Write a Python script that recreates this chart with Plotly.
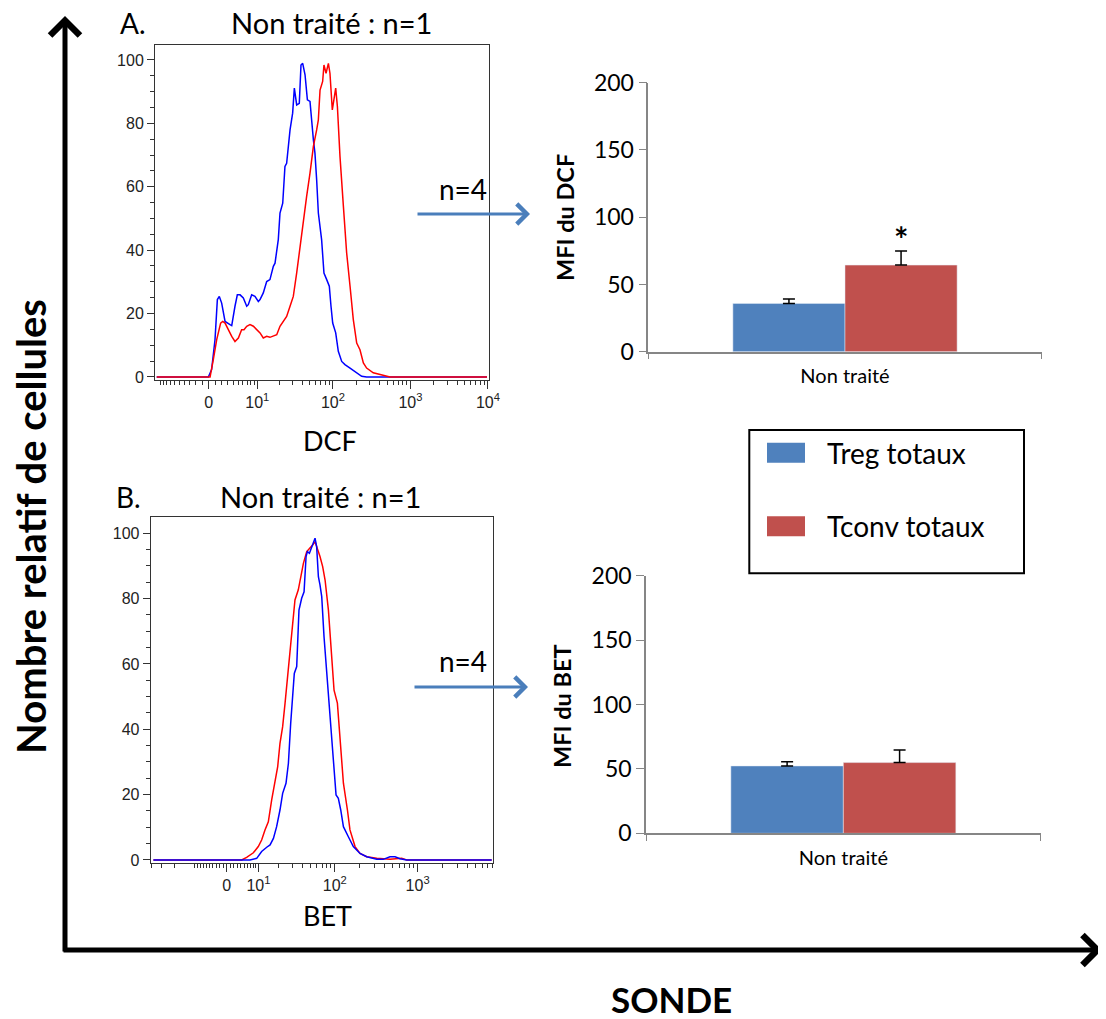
import numpy as np
import plotly.graph_objects as go

W, H = 1098, 1011   # figure size; the page adds an 8 px body margin
OFF = 8

# ---------------- data ----------------
# Flow cytometry histograms: relative cell count per display channel (0-256)
dcf_treg_ch = [1.3, 40.9, 43.4, 46.0, 47.8, 49.3, 51.1, 53.7, 57.5, 58.8, 61.3, 63.1, 65.2, 67.7, 70.3, 71.5,
               74.1, 76.6, 79.2, 80.5, 83.0, 85.6, 88.1, 90.7, 92.0, 94.5, 95.8, 97.9, 99.6, 100.9, 103.5, 105.5,
               106.8, 108.6, 110.6, 111.9, 113.2, 115.0, 116.8, 118.8, 121.4, 122.6, 123.9, 125.2, 127.7, 129.5,
               131.6, 133.6, 134.9, 136.2, 138.5, 140.5, 143.1, 145.6, 149.5, 154.6, 158.4, 162.2, 254.5]
dcf_treg_y = [0, 0, 2.3, 11.8, 24.4, 25.4, 23.3, 17.5, 16.5, 16.2, 22.3, 25.9, 25.9, 24.9, 22.3, 22.8,
              25.9, 25.4, 23.8, 24.4, 26.5, 30.1, 30.7, 34.9, 35.9, 43.3, 51.7, 54.8, 66.4, 67.4, 77.9, 83.2,
              91.1, 85.8, 86.3, 98.4, 98.9, 95.3, 87.4, 86.9, 74.8, 70.6, 62.2, 51.7, 43.3, 32.8,
              30.7, 28.6, 22.3, 17.0, 13.9, 8.1, 4.9, 3.9, 2.8, 1.3, 0.2, 0, 0]
dcf_tconv_ch = [1.3, 42.2, 44.7, 47.3, 50.3, 51.9, 53.7, 56.2, 58.8, 61.3, 63.9, 66.4, 68.2, 70.3, 72.8, 75.4,
                77.9, 80.5, 83.0, 85.6, 88.1, 90.7, 93.3, 95.8, 98.4, 100.9, 103.5, 106.0, 108.6, 111.1, 113.7,
                116.2, 118.8, 121.4, 123.9, 125.2, 126.5, 128.5, 129.5, 131.1, 132.9, 134.1, 135.9, 137.2, 138.5,
                139.8, 141.8, 144.4, 146.9, 149.5, 152.0, 154.6, 157.1, 159.7, 162.2, 167.3, 175.0, 180.1, 254.5]
dcf_tconv_y = [0, 0, 5.5, 11.8, 17.0, 17.5, 17.0, 14.9, 12.8, 11.2, 12.3, 14.9, 14.9, 16.0, 16.5, 16.0,
               14.9, 13.9, 12.3, 12.8, 12.5, 12.8, 13.3, 16.0, 17.5, 19.1, 22.3, 25.4, 32.8, 41.2, 49.6,
               56.9, 64.3, 72.7, 77.9, 81.1, 90.5, 93.2, 98.4, 95.8, 98.9, 95.8, 84.2, 87.9, 91.1,
               85.3, 69.5, 53.8, 39.1, 28.6, 18.1, 10.7, 8.6, 4.4, 2.8, 1.3, 0.4, 0, 0]

bet_treg_ch = [2.0, 74.2, 79.2, 82.9, 86.7, 89.2, 91.7, 94.1, 96.6, 98.6, 101.1, 102.9, 104.6, 106.1, 107.3,
               109.1, 110.8, 112.8, 114.6, 116.1, 117.1, 118.6, 120.3, 121.5, 122.8, 124.0, 125.3, 126.5, 127.8,
               129.5, 131.5, 134.0, 136.5, 138.5, 140.2, 142.0, 144.0, 147.7, 151.4, 156.4, 161.4, 168.9, 173.8,
               178.8, 182.6, 186.3, 191.3, 254.8]
bet_treg_y = [0, 0, 0.5, 2.6, 3.9, 4.6, 6.6, 10.2, 15.3, 20.4, 23.5, 29.6, 41.8, 50.0, 57.1,
              59.2, 76.5, 80.1, 82.1, 92.9, 94.4, 93.9, 95.9, 96.9, 98.5, 95.9, 86.7, 84.2, 80.6,
              68.4, 58.2, 45.9, 30.6, 19.9, 18.9, 15.3, 10.2, 7.1, 4.1, 2.0, 1.0, 0.2, 0.2,
              1.0, 1.0, 0.4, 0, 0]
bet_tconv_ch = [2.0, 68.0, 71.7, 76.7, 80.4, 82.9, 85.4, 87.9, 90.4, 92.9, 94.9, 96.6, 98.6, 100.4, 102.4,
                104.1, 106.1, 107.8, 110.3, 111.6, 114.1, 116.6, 119.1, 121.0, 122.8, 124.5, 126.5, 128.5, 130.3,
                132.8, 135.2, 137.0, 139.5, 141.5, 144.0, 147.0, 148.9, 152.7, 156.4, 161.4, 168.9, 178.8, 187.5,
                191.3, 254.8]
bet_tconv_y = [0, 0, 0.8, 2.2, 4.1, 6.1, 9.2, 11.7, 18.4, 23.5, 28.6, 35.7, 40.8, 48.0, 57.1,
               64.3, 73.5, 79.6, 82.7, 85.7, 90.8, 94.4, 95.4, 96.4, 97.4, 95.4, 92.9, 89.8, 85.7,
               76.5, 63.3, 52.0, 48.0, 35.7, 23.5, 15.3, 9.2, 4.1, 2.0, 1.0, 0.5, 0.2, 0.5,
               0, 0]

# Bar charts (MFI, mean + SEM), n=4
groups = ["Non traité"]
series_names = ["Treg totaux", "Tconv totaux"]
dcf_treg, dcf_treg_err = [35.9], [3.3]
dcf_tconv, dcf_tconv_err = [64.4], [10.4]
bet_treg, bet_treg_err = [52.3], [3.3]
bet_tconv, bet_tconv_err = [54.9], [9.8]

# axis tick values
hist_major_vals = [0, 10, 100, 1000, 10000]
hist_major_text = ["0", "10<sup>1</sup>", "10<sup>2</sup>", "10<sup>3</sup>", "10<sup>4</sup>"]

BLUE_BAR, RED_BAR = "#4f81bd", "#c0504d"
ARROW_BLUE = "#4a7ebb"
CAL = "Lato, 'Open Sans', sans-serif"
ARIAL = "'Liberation Sans', Arial, sans-serif"


def fx(p):
    return (p - OFF) / W


def fy(p):
    return 1 - (p - OFF) / H


def biex(v, c, ch0, k):
    return ch0 + k * np.arcsinh(np.asarray(v, float) / c) / np.log(10)


def minor_vals(c, ch0, k):
    vals = []
    for s in (-1, 1):
        for e in range(0, 4):
            for m in range(1, 10):
                v = s * m * 10 ** e
                if s > 0 and m == 1 and e >= 1:
                    continue
                vals.append(v)
    ch = biex(vals, c, ch0, k)
    return [float(x) for x in ch if 0 < x < 256]


fig = go.Figure()

# ---- histograms ----
fig.add_trace(go.Scatter(x=dcf_treg_ch, y=dcf_treg_y, mode="lines", line=dict(color="#0000ff", width=1.5),
                         xaxis="x", yaxis="y", showlegend=False))
fig.add_trace(go.Scatter(x=dcf_tconv_ch, y=dcf_tconv_y, mode="lines", line=dict(color="#ff0000", width=1.5),
                         xaxis="x", yaxis="y", showlegend=False))
fig.add_trace(go.Scatter(x=bet_tconv_ch, y=bet_tconv_y, mode="lines", line=dict(color="#ff0000", width=1.5),
                         xaxis="x3", yaxis="y3", showlegend=False))
fig.add_trace(go.Scatter(x=bet_treg_ch, y=bet_treg_y, mode="lines", line=dict(color="#0000ff", width=1.5),
                         xaxis="x3", yaxis="y3", showlegend=False))

# ---- bars ----
err_style = dict(type="data", symmetric=False, color="black", thickness=1.5, width=6)
fig.add_trace(go.Bar(x=groups, y=dcf_treg, name=series_names[0], marker_color=BLUE_BAR,
                     error_y=dict(array=dcf_treg_err, arrayminus=[0], **err_style),
                     xaxis="x2", yaxis="y2", showlegend=False))
fig.add_trace(go.Bar(x=groups, y=dcf_tconv, name=series_names[1], marker_color=RED_BAR,
                     error_y=dict(array=dcf_tconv_err, arrayminus=[0], **err_style),
                     xaxis="x2", yaxis="y2", showlegend=False))
fig.add_trace(go.Bar(x=groups, y=bet_treg, name=series_names[0], marker_color=BLUE_BAR,
                     error_y=dict(array=bet_treg_err, arrayminus=[0], **err_style),
                     xaxis="x4", yaxis="y4", showlegend=False))
fig.add_trace(go.Bar(x=groups, y=bet_tconv, name=series_names[1], marker_color=RED_BAR,
                     error_y=dict(array=bet_tconv_err, arrayminus=[0], **err_style),
                     xaxis="x4", yaxis="y4", showlegend=False))


def hist_x(domain_px, c, ch0, k, anchor):
    return dict(domain=[fx(domain_px[0]), fx(domain_px[1])], range=[0, 256], anchor=anchor,
                tickmode="array", tickvals=[float(v) for v in biex(hist_major_vals, c, ch0, k)],
                ticktext=hist_major_text, ticks="outside", ticklen=8, tickwidth=1, tickcolor="#333",
                minor=dict(tickmode="array", tickvals=minor_vals(c, ch0, k), ticks="outside",
                           ticklen=4, tickcolor="#333", tickwidth=1),
                showline=True, linecolor="#333", linewidth=1, mirror=True,
                showgrid=False, zeroline=False, tickfont=dict(family=ARIAL, size=16, color="#222"))


def hist_y(domain_px, top, anchor):
    return dict(domain=[fy(domain_px[1]), fy(domain_px[0])], range=[-0.8, top], anchor=anchor,
                tickmode="array", tickvals=[0, 20, 40, 60, 80, 100],
                ticks="outside", ticklen=7, tickcolor="#333",
                minor=dict(dtick=5, ticks="outside", ticklen=4, tickcolor="#333"),
                showline=True, linecolor="#333", linewidth=1, mirror=True,
                showgrid=False, zeroline=False, tickfont=dict(family=ARIAL, size=16, color="#222"))


def bar_x(domain_px, anchor):
    return dict(domain=[fx(domain_px[0]), fx(domain_px[1])], type="category", anchor=anchor,
                tickson="boundaries", ticks="outside", ticklen=6, tickcolor="#868686",
                showline=True, linecolor="#868686", linewidth=1.5, showgrid=False,
                tickfont=dict(family=CAL, size=20, color="black"), ticklabelstandoff=6)


def bar_y(domain_px, anchor):
    return dict(domain=[fy(domain_px[1]), fy(domain_px[0])], range=[0, 200], dtick=50, anchor=anchor,
                ticks="outside", ticklen=8, tickcolor="#868686", showline=True, linecolor="#868686",
                linewidth=1.5, showgrid=False, zeroline=False,
                tickfont=dict(family=CAL, size=23, color="black"))


fig.update_layout(
    width=W, height=H, margin=dict(l=0, r=0, t=0, b=0, pad=0, autoexpand=False),
    paper_bgcolor="white", plot_bgcolor="white",
    barmode="group", bargap=0.43, bargroupgap=0,
    xaxis=hist_x((155, 489), 5, 41.2, 59.4, "y"),
    yaxis=hist_y((45, 379.5), 104.7, "x"),
    xaxis3=hist_x((150.7, 493.3), 10, 56.8, 62.0, "y3"),
    yaxis3=hist_y((517.3, 862.6), 104.9, "x3"),
    xaxis2=bar_x((648.3, 1041.7), "y2"), yaxis2=bar_y((82.7, 351.7), "x2"),
    xaxis4=bar_x((646, 1040.7), "y4"), yaxis4=bar_y((575.7, 833.3), "x4"),
)

ann = []


def text(x, y, s, size, bold=False, angle=0, family=CAL, xanchor="center"):
    ann.append(dict(x=fx(x), y=fy(y), xref="paper", yref="paper", text=f"<b>{s}</b>" if bold else s,
                    showarrow=False, textangle=angle, xanchor=xanchor, yanchor="middle", borderpad=0,
                    font=dict(family=family, size=size, color="black")))


def arrow(x0, y0, x1, y1, color, width, size):
    ann.append(dict(x=fx(x1), y=fy(y1), xref="paper", yref="paper", ax=x0 - x1, ay=y0 - y1,
                    axref="pixel", ayref="pixel", text="", showarrow=True, arrowhead=4,
                    arrowsize=size, arrowwidth=width, arrowcolor=color, standoff=0, startstandoff=0))


# big axes
arrow(65, 953, 65, 16, "black", 5, 1.15)
arrow(62, 950, 1102, 950, "black", 5, 1.15)
text(31, 527, "Nombre relatif de cellules", 40, bold=True, angle=-90)
text(671, 999, "SONDE", 35, bold=True)

# histogram titles
text(133, 23, "A.", 28)
text(331, 23, "Non traité : n=1", 29)
text(330, 440, "DCF", 27)
text(128, 497, "B.", 28)
text(320, 497, "Non traité : n=1", 29)
text(327, 915, "BET", 27)

# n=4 arrows
text(463, 189, "n=4", 28)
arrow(416, 214, 530, 214, ARROW_BLUE, 3, 1.3)
text(463, 661, "n=4", 28)
arrow(413, 687, 528, 687, ARROW_BLUE, 3, 1.3)

# bar axis titles
text(565, 218, "MFI du DCF", 23.5, bold=True, angle=-90)
text(562, 706, "MFI du BET", 23.5, bold=True, angle=-90)

# significance star
ann.append(dict(x=groups[0], y=dcf_tconv[0] + dcf_tconv_err[0], xref="x2", yref="y2", xshift=56, yshift=-10,
                text="<b>*</b>", showarrow=False, yanchor="bottom",
                font=dict(family=CAL, size=34, color="black")))

# legend
shapes = [dict(type="rect", xref="paper", yref="paper", x0=fx(749.3), x1=fx(1024), y0=fy(573.3), y1=fy(430),
               line=dict(color="black", width=2), fillcolor="white")]
for i, (name, col) in enumerate(zip(series_names, [BLUE_BAR, RED_BAR])):
    yc = 452.7 + i * 73.5
    shapes.append(dict(type="rect", xref="paper", yref="paper", x0=fx(767), x1=fx(805),
                       y0=fy(yc + 10), y1=fy(yc - 10), line=dict(width=0), fillcolor=col))
    text(826, yc, name, 28, xanchor="left")

fig.update_layout(annotations=ann, shapes=shapes)
fig.write_html("out.html")
